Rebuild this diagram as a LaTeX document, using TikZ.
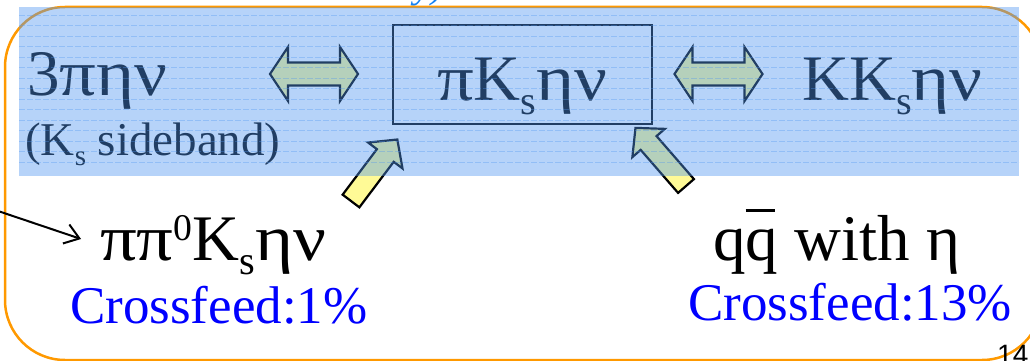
\documentclass[tikz,border=0pt]{standalone}
\usepackage{fontspec}
\setmainfont{Liberation Serif}
\newfontfamily\pagefont{Liberation Sans}
\usepackage{tikz}
\usetikzlibrary{arrows.meta, positioning, calc}
\definecolor{bandblue}{RGB}{80,150,240}
\definecolor{frameorange}{RGB}{255,153,0}
\definecolor{arrowyellow}{RGB}{255,250,150}
\definecolor{titleblue}{RGB}{20,130,245}
\newcommand{\ssub}{\raisebox{-0.23em}{\scalebox{0.62}{s}}}
\newcommand{\zsup}{\raisebox{0.3em}{\scalebox{0.58}{0}}}
\newcommand{\qbar}{q\makebox[0pt][l]{\raisebox{0.74em}{\rule{0.45em}{0.045em}}}q}
\newcommand{\wg}[1]{\scalebox{1.12}[1]{#1}}

\begin{document}
\begin{tikzpicture}[x=1pt, y=-1pt,
    every node/.style={inner sep=0pt, anchor=base west},
    big/.style={font=\fontsize{65}{70}\selectfont},
    small/.style={font=\fontsize{47}{52}\selectfont},
    feed/.style={font=\fontsize{53}{58}\selectfont, text=blue},
    fat/.style={draw=black, line width=2.2pt, fill=arrowyellow, line join=miter},
    pics/dblarrow/.style={code={
        \draw[fat] (-44,0) -- (-26,-27) -- (-26,-11.5) -- (26,-11.5) -- (26,-27) -- (44,0)
          -- (26,27) -- (26,11.5) -- (-26,11.5) -- (-26,27) -- cycle;}},
    pics/onearrow/.style={code={
        \draw[fat] (0,-10.5) -- (57,-10.5) -- (57,-21.5) -- (77,0) -- (57,21.5) -- (57,10.5)
          -- (0,10.5) -- cycle;}}]
        \clip (0,0) rectangle (1030,361);

        % cut-off title and frame
        \node[titleblue, font=\fontsize{40}{44}\selectfont\itshape] (title) at (414,-2) {y)};
        \draw[frameorange, line width=2.5pt, rounded corners=60pt] (5,7) rectangle (1042,360);

        % upper row
        \node[big] (lhs) at (27,95) {3\wg{πην}};
        \node[small] (side) at (25,155) {(K\ssub\ sideband)};
        \node[draw, line width=2pt, minimum width=259pt, minimum height=99pt, anchor=center] (box) at (522.5,74.5) {};
        \node[big] (mid) at (437,100) {\wg{π}K\ssub\wg{ην}};
        \node[big] (rhs) at (802,100) {KK\ssub\wg{ην}};
        \pic at (314,74) {dblarrow};
        \pic at (718.5,74) {dblarrow};

        % crossfeed arrows
        \pic[rotate=53] at (351,201) {onearrow};
        \pic[rotate=131] at (686,186) {onearrow};

        % lower row
        \node[big] (feedA) at (100,260) {\wg{π}\wg{π}\zsup K\ssub\wg{ην}};
        \node[feed] (rateA) at (70,323) {Crossfeed:1\%};
        \node[big] (feedB) at (713,260) {\qbar\ with η};
        \node[feed] (rateB) at (688,320) {Crossfeed:13\%};
        \node[font=\pagefont\fontsize{28}{30}\selectfont] (page) at (997,364) {14};

        \coordinate (src) at (-2,211);
        \draw[-{Straight Barb[length=14pt, width=20pt]}, line width=2pt, shorten >=20pt] (src) -- (feedA.west);

        % translucent band
        \fill[bandblue, fill opacity=0.42] (19,7) rectangle (1019,176);
        \foreach \y in {15,25.5,...,172}
            \draw[bandblue, opacity=0.35, line width=0.8pt, dash pattern=on 6pt off 2pt] (19,\y) -- (1019,\y);
    \end{tikzpicture}
\end{document}
